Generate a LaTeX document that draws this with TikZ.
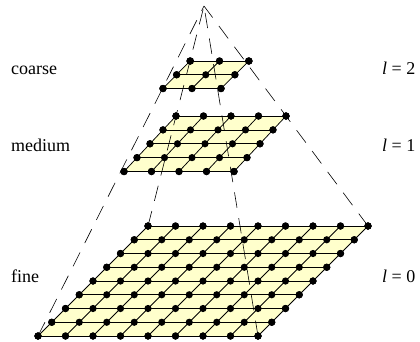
\documentclass[tikz,border=0pt]{standalone}
\usepackage{fontspec}
\setmainfont{Liberation Serif}
\definecolor{plane}{RGB}{255,255,204}
\tikzset{
  dotnode/.style={circle,fill=black,inner sep=0pt,minimum size=7.2pt},
  gridline/.style={black,line width=0.75pt},
  pyr/.style={black,line width=0.6pt,dash pattern=on 15.5pt off 10.5pt},
  lab/.style={anchor=base west,font=\fontsize{18}{20}\selectfont,inner sep=0pt}
}
\begin{document}
\begin{tikzpicture}[x=1pt,y=-1pt]
\useasboundingbox (0,0) rectangle (420,341);
\coordinate (apex) at (204,6);
% fine
\fill[plane] (38,336)--(258,336)--(368,226)--(148,226)--cycle;
\foreach \i in {0,...,8}{
  \node[dotnode] (fl\i) at ({38+13.75*\i},{336-13.75*\i}) {};
  \node[dotnode] (fr\i) at ({258+13.75*\i},{336-13.75*\i}) {};
  \node[dotnode] (fb\i) at ({38+27.5*\i},336) {};
  \node[dotnode] (ft\i) at ({148+27.5*\i},226) {};
  \draw[gridline] (fl\i.center)--(fr\i.center);
  \draw[gridline] (fb\i.center)--(ft\i.center);
}
\foreach \i in {0,...,8}{\foreach \j in {0,...,8}{
  \node[dotnode] at ({38+27.5*\i+13.75*\j},{336-13.75*\j}) {};
}}
% medium
\fill[plane] (124,171.5)--(234,171.5)--(286,116)--(176,116)--cycle;
\foreach \i in {0,...,4}{
  \node[dotnode] (ml\i) at ({124+13*\i},{171.5-13.875*\i}) {};
  \node[dotnode] (mr\i) at ({234+13*\i},{171.5-13.875*\i}) {};
  \node[dotnode] (mb\i) at ({124+27.5*\i},171.5) {};
  \node[dotnode] (mt\i) at ({176+27.5*\i},116) {};
  \draw[gridline] (ml\i.center)--(mr\i.center);
  \draw[gridline] (mb\i.center)--(mt\i.center);
}
\foreach \i in {0,...,4}{\foreach \j in {0,...,4}{
  \node[dotnode] at ({124+27.5*\i+13*\j},{171.5-13.875*\j}) {};
}}
% coarse
\fill[plane] (163,88.5)--(221,88.5)--(249,61)--(190,61)--cycle;
\foreach \i in {0,...,2}{
  \node[dotnode] (cl\i) at ({163+13.5*\i},{88.5-13.75*\i}) {};
  \node[dotnode] (cr\i) at ({221+14*\i},{88.5-13.75*\i}) {};
  \node[dotnode] (cb\i) at ({163+29*\i},88.5) {};
  \node[dotnode] (ct\i) at ({190+29.5*\i},61) {};
  \draw[gridline] (cl\i.center)--(cr\i.center);
  \draw[gridline] (cb\i.center)--(ct\i.center);
}
\foreach \i in {0,...,2}{\foreach \j in {0,...,2}{
  \node[dotnode] at ({163+29*\i+13.75*\j},{88.5-13.75*\j}) {};
}}
% pyramid: dashes start at the base
\draw[pyr] (fb0.center)--(apex);
\draw[pyr] (ft0.center)--(apex);
\draw[pyr] (fb8.center)--(apex);
\draw[pyr] (ft8.center)--(apex);
% labels
\node[lab] (lc) at (11,74) {coarse};
\node[lab] (lm) at (11,151) {medium};
\node[lab] (lf) at (11,282) {fine};
\node[lab] (l2) at (382,74) {\textit{l} = 2};
\node[lab] (l1) at (382,151) {\textit{l} = 1};
\node[lab] (l0) at (382,282) {\textit{l} = 0};
\end{tikzpicture}
\end{document}
